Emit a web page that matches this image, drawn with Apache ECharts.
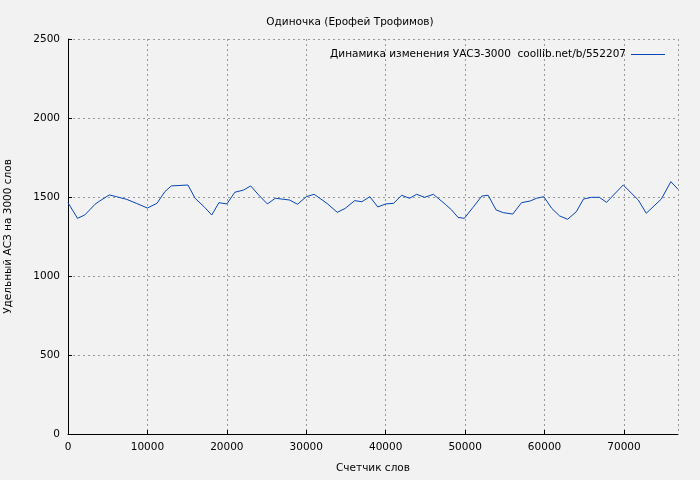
<!DOCTYPE html>
<html>
<head>
<meta charset="utf-8">
<script src="https://cdn.jsdelivr.net/npm/echarts@6/dist/echarts.min.js"></script>
<style>html,body{margin:0;padding:0;background:#f2f2f2}#chart{width:700px;height:480px}</style>
</head>
<body>
<div id="chart"></div>
<script>
// данные: [слово, удельный АСЗ]
const wordPos = [0, 1200, 2100, 2800, 3400, 4000, 5200, 6100, 7400, 8600, 10000, 11200, 12200, 13000,
    15100, 16000, 17200, 18100, 19000, 20000, 21000, 22100, 23000, 24000, 25100, 26100, 27900, 28900,
    30000, 31000, 32600, 33900, 34900, 36100, 37000, 38000, 39000, 40000, 41000, 42000, 43000, 43900,
    44900, 46000, 47500, 48300, 49100, 49900, 51000, 52100, 52900, 53900, 54800, 56000, 57100, 58200,
    59000, 59900, 60900, 61900, 62900, 64000, 64900, 65900, 66900, 67800, 69900, 71800, 72800, 74700,
    75900, 76800];
const values = [1464, 1365, 1386, 1422, 1454, 1475, 1513, 1502, 1485, 1460, 1430, 1460, 1534, 1570,
    1576, 1492, 1435, 1386, 1464, 1456, 1530, 1544, 1570, 1513, 1456, 1492, 1481, 1454,
    1502, 1517, 1460, 1403, 1428, 1477, 1470, 1502, 1437, 1456, 1460, 1511, 1492, 1517,
    1498, 1517, 1454, 1418, 1371, 1365, 1435, 1506, 1511, 1418, 1401, 1392, 1464, 1475,
    1492, 1502, 1428, 1380, 1359, 1407, 1487, 1498, 1498, 1466, 1576, 1481, 1397, 1487,
    1597, 1549];
const seriesName = 'Динамика изменения УАСЗ-3000  coollib.net/b/552207';

const chart = echarts.init(document.getElementById('chart'));
const font = 'DejaVu Sans';
const option = {
    backgroundColor: '#f2f2f2',
    textStyle: { fontFamily: font },
    title: {
        text: 'Одиночка (Ерофей Трофимов)',
        left: 'center',
        top: 12,
        textStyle: { fontSize: 10.5, fontWeight: 'normal', color: '#000', fontFamily: font }
    },
    legend: {
        right: 30,
        top: 44,
        itemWidth: 34,
        itemHeight: 1,
        itemGap: 10,
        icon: 'rect',
        align: 'right',
        textStyle: { fontSize: 10.5, color: '#000', fontFamily: font },
        data: [{ name: seriesName }]
    },
    grid: { left: 68, right: 22, top: 39, bottom: 46, outerBoundsMode: 'none' },
    xAxis: {
        type: 'value',
        min: 0,
        max: 76800,
        interval: 10000,
        name: 'Счетчик слов',
        nameLocation: 'middle',
        nameGap: 29,
        nameTextStyle: { fontSize: 10.5, color: '#000' },
        axisLine: { lineStyle: { color: '#000' } },
        axisTick: { show: true, inside: true, length: 4, lineStyle: { color: '#000' } },
        axisLabel: { color: '#000', fontSize: 10.5, showMaxLabel: false, formatter: v => String(v) },
        splitLine: { show: true, lineStyle: { color: '#999', type: [2, 3] } }
    },
    yAxis: {
        type: 'value',
        min: 0,
        max: 2500,
        interval: 500,
        name: 'Удельный АСЗ на 3000 слов',
        nameLocation: 'middle',
        nameGap: 54,
        nameTextStyle: { fontSize: 10.5, color: '#000' },
        axisLine: { show: true, lineStyle: { color: '#000' } },
        axisTick: { show: true, inside: true, length: 4, lineStyle: { color: '#000' } },
        axisLabel: { color: '#000', fontSize: 10.5, formatter: v => String(v) },
        splitLine: { show: true, lineStyle: { color: '#999', type: [2, 3] } }
    },
    series: [{
        name: seriesName,
        type: 'line',
        data: wordPos.map((w, i) => [w, values[i]]),
        showSymbol: false,
        color: '#0645b4',
        lineStyle: { width: 1, color: '#0645b4' }
    }]
};
chart.setOption(option);
</script>
</body>
</html>
